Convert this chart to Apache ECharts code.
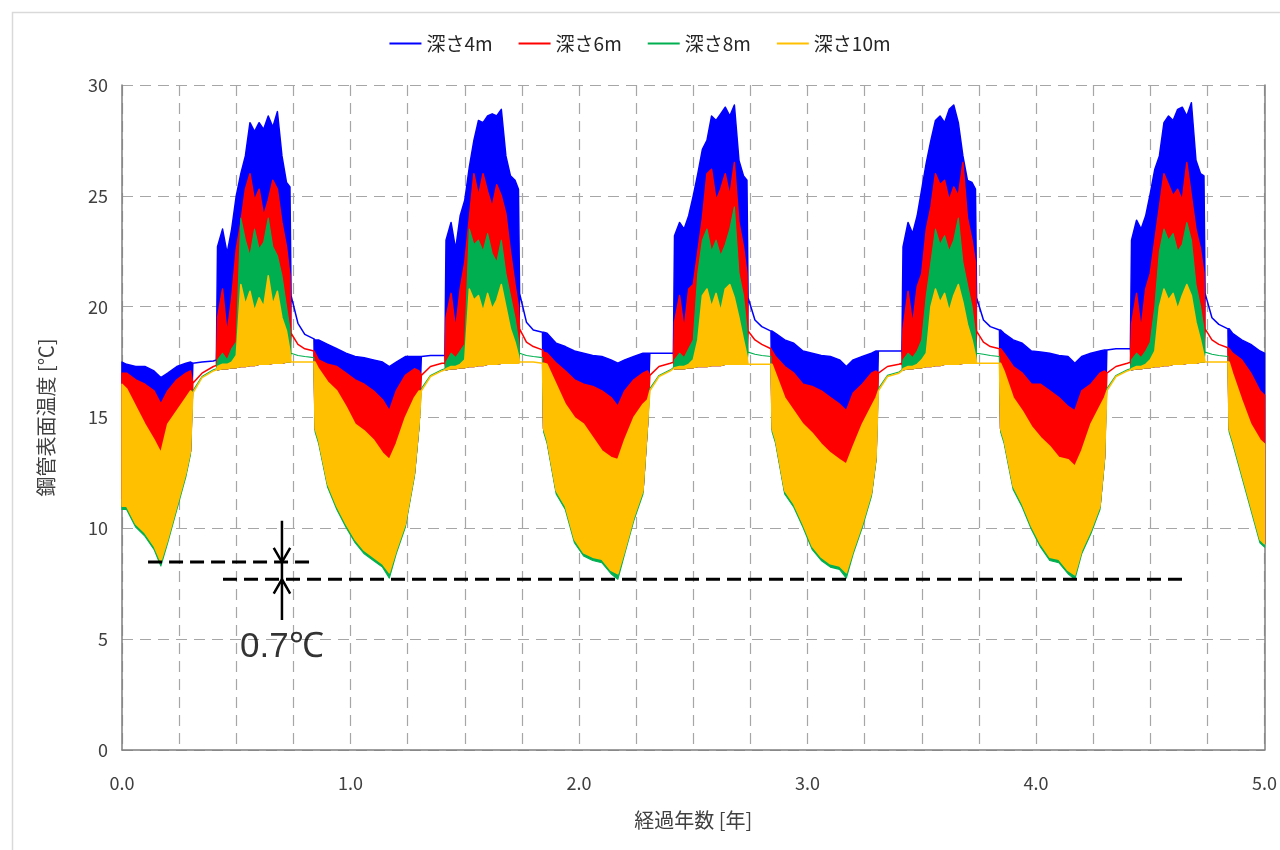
<!DOCTYPE html>
<html>
<head>
<meta charset="utf-8">
<script src="https://cdn.jsdelivr.net/npm/echarts@6/dist/echarts.min.js"></script>
<style>
  html, body { margin: 0; padding: 0; background: #fff; }
  #pipeChart { width: 1280px; height: 850px; }
</style>
</head>
<body>
<div id="pipeChart"></div>
<script>
// elapsed years (shared by all depths)
const years = [
  0, 0.02, 0.06, 0.1, 0.14, 0.17, 0.2, 0.24, 0.28, 0.3, 0.31, 0.35, 0.4, 0.413, 0.418, 0.44, 0.46, 0.48, 0.5, 0.52, 0.54, 0.56, 0.58, 0.6, 0.62, 0.64, 0.66, 0.68, 0.7, 0.72, 0.735, 0.74, 0.77, 0.8, 0.84,
  0.845, 0.86, 0.9, 0.94, 0.98, 1.02, 1.06, 1.1, 1.14, 1.17, 1.2, 1.24, 1.28, 1.3, 1.31, 1.35, 1.4, 1.413, 1.418, 1.44, 1.46, 1.48, 1.5, 1.52, 1.54, 1.56, 1.58, 1.6, 1.62, 1.64, 1.66, 1.68, 1.7, 1.72, 1.735, 1.74, 1.77, 1.8, 1.84,
  1.845, 1.86, 1.9, 1.94, 1.98, 2.02, 2.06, 2.1, 2.14, 2.17, 2.2, 2.24, 2.28, 2.3, 2.31, 2.35, 2.4, 2.413, 2.418, 2.44, 2.46, 2.48, 2.5, 2.52, 2.54, 2.56, 2.58, 2.6, 2.62, 2.64, 2.66, 2.68, 2.7, 2.72, 2.735, 2.74, 2.77, 2.8, 2.84,
  2.845, 2.86, 2.9, 2.94, 2.98, 3.02, 3.06, 3.1, 3.14, 3.17, 3.2, 3.24, 3.28, 3.3, 3.31, 3.35, 3.4, 3.413, 3.418, 3.44, 3.46, 3.48, 3.5, 3.52, 3.54, 3.56, 3.58, 3.6, 3.62, 3.64, 3.66, 3.68, 3.7, 3.72, 3.735, 3.74, 3.77, 3.8, 3.84,
  3.845, 3.86, 3.9, 3.94, 3.98, 4.02, 4.06, 4.1, 4.14, 4.17, 4.2, 4.24, 4.28, 4.3, 4.31, 4.35, 4.4, 4.413, 4.418, 4.44, 4.46, 4.48, 4.5, 4.52, 4.54, 4.56, 4.58, 4.6, 4.62, 4.64, 4.66, 4.68, 4.7, 4.72, 4.735, 4.74, 4.77, 4.8, 4.84,
  4.845, 4.86, 4.9, 4.94, 4.98, 5.0
];

// 深さ4m : upper / lower envelope of the oscillating signal
const depth4Hi = [
  17.5, 17.4, 17.3, 17.3, 17.1, 16.8, 17.0, 17.3, 17.45, 17.5, 17.45, 17.5, 17.55, 17.6, 22.7, 23.5, 22.4, 23.5, 25.0, 26.0, 26.8, 28.3, 27.9, 28.3, 28.0, 28.6, 28.1, 28.8, 26.8, 25.6, 25.4, 20.5, 19.25, 18.75, 18.55,
  18.5, 18.5, 18.3, 18.1, 17.9, 17.75, 17.7, 17.6, 17.5, 17.3, 17.5, 17.75, 17.75, 17.75, 17.75, 17.8, 17.8, 17.8, 23.0, 23.8, 22.6, 24.1, 24.8, 26.3, 27.5, 28.4, 28.3, 28.6, 28.7, 28.6, 28.9, 26.8, 25.9, 25.7, 25.3, 20.6, 19.3, 18.95, 18.85,
  18.85, 18.8, 18.35, 18.2, 18.0, 17.9, 17.8, 17.75, 17.6, 17.45, 17.6, 17.75, 17.9, 17.9, 17.9, 17.9, 17.9, 17.9, 23.2, 23.8, 23.5, 24.1, 25.0, 26.0, 27.1, 27.5, 28.6, 28.4, 28.7, 29.0, 28.6, 29.1, 26.6, 25.9, 25.7, 20.4, 19.4, 19.1, 18.9,
  18.9, 18.8, 18.5, 18.35, 18.0, 17.9, 17.8, 17.75, 17.6, 17.3, 17.6, 17.75, 17.9, 18.0, 18.0, 18.0, 18.0, 18.0, 22.7, 23.8, 23.3, 24.1, 25.3, 26.5, 27.5, 28.4, 28.6, 28.3, 28.9, 29.1, 28.3, 26.8, 25.7, 25.6, 25.3, 20.4, 19.4, 19.1, 18.95,
  18.95, 18.8, 18.5, 18.35, 18.0, 17.95, 17.9, 17.8, 17.75, 17.45, 17.75, 17.9, 18.0, 18.05, 18.05, 18.1, 18.1, 18.1, 23.0, 23.9, 23.5, 24.1, 25.1, 26.2, 26.8, 28.3, 28.6, 28.4, 28.9, 29.0, 28.6, 29.2, 26.6, 26.0, 25.9, 20.6, 19.5, 19.2, 19.0,
  19.0, 18.8, 18.5, 18.3, 18.0, 17.9
];
const depth4Lo = [
  11.0, 11.0, 10.2, 9.8, 9.2, 8.5, 9.5, 11.0, 12.5, 13.5, 17.45, 17.5, 17.55, 17.6, 17.15, 17.2, 17.2, 17.25, 17.25, 17.3, 17.3, 17.35, 17.35, 17.4, 17.4, 17.4, 17.45, 17.45, 17.45, 17.5, 17.5, 20.5, 19.25, 18.75, 18.55,
  14.5, 14.0, 12.0, 11.0, 10.2, 9.5, 9.0, 8.7, 8.4, 8.0, 9.0, 10.2, 12.5, 14.7, 17.75, 17.8, 17.8, 17.8, 17.15, 17.2, 17.2, 17.25, 17.25, 17.3, 17.3, 17.35, 17.35, 17.4, 17.4, 17.4, 17.45, 17.45, 17.45, 17.45, 17.45, 20.6, 19.3, 18.95, 18.85,
  14.5, 14.0, 11.7, 11.0, 9.5, 8.9, 8.7, 8.6, 8.1, 7.95, 9.0, 10.5, 11.7, 14.7, 17.9, 17.9, 17.9, 17.9, 17.2, 17.2, 17.2, 17.25, 17.25, 17.3, 17.3, 17.3, 17.35, 17.35, 17.35, 17.4, 17.4, 17.4, 17.4, 17.4, 17.4, 20.4, 19.4, 19.1, 18.9,
  14.5, 14.0, 11.7, 11.1, 10.2, 9.2, 8.7, 8.4, 8.3, 8.0, 9.0, 10.2, 11.6, 13.2, 18.0, 18.0, 18.0, 18.0, 17.15, 17.2, 17.2, 17.25, 17.25, 17.3, 17.3, 17.35, 17.35, 17.4, 17.4, 17.4, 17.4, 17.45, 17.45, 17.45, 17.45, 20.4, 19.4, 19.1, 18.95,
  14.5, 14.0, 11.9, 11.1, 10.1, 9.3, 8.7, 8.6, 8.1, 7.9, 9.0, 9.9, 11.0, 13.2, 18.05, 18.1, 18.1, 18.1, 17.15, 17.2, 17.2, 17.25, 17.25, 17.3, 17.3, 17.35, 17.35, 17.4, 17.4, 17.4, 17.45, 17.45, 17.45, 17.5, 17.5, 20.6, 19.5, 19.2, 19.0,
  14.5, 14.0, 12.5, 11.0, 9.5, 9.3
];

// 深さ6m
const depth6Hi = [
  17.0, 17.0, 16.7, 16.5, 16.2, 15.6, 16.2, 16.7, 17.0, 17.1, 16.55, 17.0, 17.3, 17.35, 19.5, 20.8, 18.8, 20.4, 22.6, 23.8, 25.3, 26.0, 24.8, 25.3, 24.1, 24.8, 25.7, 25.3, 23.8, 22.7, 21.4, 18.8, 18.3, 18.1, 18.0,
  17.9, 17.6, 17.4, 17.3, 17.0, 16.7, 16.5, 16.2, 15.8, 15.3, 16.2, 16.9, 17.2, 17.1, 16.9, 17.3, 17.45, 17.45, 19.5, 20.6, 19.0, 20.8, 22.0, 24.0, 26.0, 25.0, 26.0, 25.2, 24.5, 25.5, 25.0, 24.2, 22.5, 21.0, 20.0, 19.0, 18.4, 18.2, 18.05,
  17.95, 17.9, 17.45, 17.1, 16.7, 16.5, 16.4, 16.2, 15.9, 15.5, 16.2, 16.7, 17.0, 17.1, 16.9, 17.3, 17.45, 17.5, 19.3, 20.5, 19.0, 20.8, 21.0, 22.5, 24.0, 26.0, 26.2, 24.8, 25.3, 26.0, 25.0, 26.5, 23.8, 22.7, 21.5, 18.9, 18.5, 18.3, 18.1,
  18.0, 17.75, 17.3, 17.0, 16.5, 16.4, 16.2, 15.9, 15.6, 15.3, 16.1, 16.5, 17.0, 17.1, 17.0, 17.3, 17.4, 17.45, 19.0, 20.7, 19.2, 20.9, 21.5, 23.5, 24.5, 26.0, 25.5, 25.7, 24.8, 25.4, 25.0, 26.5, 24.0, 23.0, 22.0, 18.9, 18.4, 18.2, 18.1,
  18.1, 17.9, 17.3, 17.0, 16.5, 16.5, 16.2, 15.9, 15.5, 15.3, 16.2, 16.5, 17.0, 17.1, 17.0, 17.3, 17.45, 17.5, 19.2, 20.6, 19.0, 20.8, 21.5, 23.0, 24.5, 26.0, 25.5, 25.0, 25.3, 24.8, 26.5, 25.0, 23.5, 22.6, 21.5, 19.0, 18.5, 18.3, 18.15,
  18.1, 17.9, 17.6, 17.0, 16.2, 16.0
];
const depth6Lo = [
  11.0, 11.0, 10.2, 9.8, 9.2, 8.5, 9.5, 11.0, 12.5, 13.5, 16.55, 17.0, 17.3, 17.35, 17.15, 17.2, 17.2, 17.25, 17.25, 17.3, 17.3, 17.35, 17.35, 17.4, 17.4, 17.4, 17.45, 17.45, 17.45, 17.5, 17.5, 18.8, 18.3, 18.1, 18.0,
  14.5, 14.0, 12.0, 11.0, 10.2, 9.5, 9.0, 8.7, 8.4, 8.0, 9.0, 10.2, 12.5, 14.7, 16.9, 17.3, 17.45, 17.45, 17.15, 17.2, 17.2, 17.25, 17.25, 17.3, 17.3, 17.35, 17.35, 17.4, 17.4, 17.4, 17.45, 17.45, 17.45, 17.45, 17.45, 19.0, 18.4, 18.2, 18.05,
  14.5, 14.0, 11.7, 11.0, 9.5, 8.9, 8.7, 8.6, 8.1, 7.95, 9.0, 10.5, 11.7, 14.7, 16.9, 17.3, 17.45, 17.5, 17.2, 17.2, 17.2, 17.25, 17.25, 17.3, 17.3, 17.3, 17.35, 17.35, 17.35, 17.4, 17.4, 17.4, 17.4, 17.4, 17.4, 18.9, 18.5, 18.3, 18.1,
  14.5, 14.0, 11.7, 11.1, 10.2, 9.2, 8.7, 8.4, 8.3, 8.0, 9.0, 10.2, 11.6, 13.2, 17.0, 17.3, 17.4, 17.45, 17.15, 17.2, 17.2, 17.25, 17.25, 17.3, 17.3, 17.35, 17.35, 17.4, 17.4, 17.4, 17.4, 17.45, 17.45, 17.45, 17.45, 18.9, 18.4, 18.2, 18.1,
  14.5, 14.0, 11.9, 11.1, 10.1, 9.3, 8.7, 8.6, 8.1, 7.9, 9.0, 9.9, 11.0, 13.2, 17.0, 17.3, 17.45, 17.5, 17.15, 17.2, 17.2, 17.25, 17.25, 17.3, 17.3, 17.35, 17.35, 17.4, 17.4, 17.4, 17.45, 17.45, 17.45, 17.5, 17.5, 19.0, 18.5, 18.3, 18.15,
  14.5, 14.0, 12.5, 11.0, 9.5, 9.3
];

// 深さ8m
const depth8Hi = [
  11.3, 11.3, 10.5, 10.1, 9.5, 8.8, 9.8, 11.3, 12.8, 13.8, 16.2, 16.85, 17.15, 17.2, 17.6, 17.9, 17.6, 18.1, 18.4, 24.0, 23.0, 22.3, 23.5, 22.6, 22.9, 24.0, 22.7, 22.3, 21.4, 20.0, 19.0, 17.9, 17.8, 17.75, 17.7,
  14.8, 14.3, 12.3, 11.3, 10.5, 9.8, 9.3, 9.0, 8.7, 8.3, 9.3, 10.5, 12.8, 15.0, 16.3, 16.9, 17.15, 17.2, 17.5, 17.9, 17.7, 18.0, 18.3, 23.5, 22.8, 23.0, 22.5, 23.3, 22.4, 22.0, 23.0, 21.5, 20.5, 19.5, 18.5, 17.9, 17.8, 17.75, 17.7,
  14.8, 14.3, 12.0, 11.3, 9.8, 9.2, 9.0, 8.9, 8.4, 8.25, 9.3, 10.8, 12.0, 15.0, 16.3, 16.9, 17.15, 17.25, 17.6, 17.9, 17.7, 18.1, 18.5, 21.5, 23.0, 23.5, 22.5, 23.0, 22.3, 22.8, 23.5, 24.5, 21.5, 20.5, 19.0, 17.95, 17.85, 17.8, 17.75,
  14.8, 14.3, 12.0, 11.4, 10.5, 9.5, 9.0, 8.7, 8.6, 8.3, 9.3, 10.5, 11.9, 13.5, 16.3, 16.9, 17.05, 17.15, 17.6, 17.9, 17.7, 18.0, 18.5, 20.5, 22.0, 23.5, 22.8, 23.2, 22.5, 23.0, 24.0, 22.0, 21.0, 20.0, 18.8, 17.9, 17.85, 17.8, 17.75,
  14.8, 14.3, 12.2, 11.4, 10.4, 9.6, 9.0, 8.9, 8.4, 8.2, 9.3, 10.2, 11.3, 13.5, 16.3, 16.9, 17.15, 17.2, 17.6, 17.9, 17.7, 18.0, 18.4, 20.0, 22.5, 23.5, 23.0, 23.3, 22.5, 22.8, 23.8, 23.0, 21.0, 20.0, 19.0, 17.95, 17.85, 17.8, 17.75,
  14.8, 14.3, 12.8, 11.3, 9.8, 9.6
];
const depth8Lo = [
  10.85, 10.85, 10.05, 9.65, 9.05, 8.3, 9.35, 10.85, 12.35, 13.35, 16.2, 16.85, 17.15, 17.2, 17.15, 17.2, 17.2, 17.25, 17.25, 17.3, 17.3, 17.35, 17.35, 17.4, 17.4, 17.4, 17.45, 17.45, 17.45, 17.5, 17.5, 17.9, 17.8, 17.75, 17.7,
  14.35, 13.85, 11.85, 10.85, 10.05, 9.35, 8.85, 8.55, 8.25, 7.75, 8.85, 10.05, 12.35, 14.55, 16.3, 16.9, 17.15, 17.2, 17.15, 17.2, 17.2, 17.25, 17.25, 17.3, 17.3, 17.35, 17.35, 17.4, 17.4, 17.4, 17.45, 17.45, 17.45, 17.45, 17.45, 17.9, 17.8, 17.75, 17.7,
  14.35, 13.85, 11.55, 10.85, 9.35, 8.75, 8.55, 8.45, 7.95, 7.7, 8.85, 10.35, 11.55, 14.55, 16.3, 16.9, 17.15, 17.25, 17.2, 17.2, 17.2, 17.25, 17.25, 17.3, 17.3, 17.3, 17.35, 17.35, 17.35, 17.4, 17.4, 17.4, 17.4, 17.4, 17.4, 17.95, 17.85, 17.8, 17.75,
  14.35, 13.85, 11.55, 10.95, 10.05, 9.05, 8.55, 8.25, 8.15, 7.75, 8.85, 10.05, 11.45, 13.05, 16.3, 16.9, 17.05, 17.15, 17.15, 17.2, 17.2, 17.25, 17.25, 17.3, 17.3, 17.35, 17.35, 17.4, 17.4, 17.4, 17.4, 17.45, 17.45, 17.45, 17.45, 17.9, 17.85, 17.8, 17.75,
  14.35, 13.85, 11.75, 10.95, 9.95, 9.15, 8.55, 8.45, 7.95, 7.7, 8.85, 9.75, 10.85, 13.05, 16.3, 16.9, 17.15, 17.2, 17.15, 17.2, 17.2, 17.25, 17.25, 17.3, 17.3, 17.35, 17.35, 17.4, 17.4, 17.4, 17.45, 17.45, 17.45, 17.5, 17.5, 17.95, 17.85, 17.8, 17.75,
  14.35, 13.85, 12.35, 10.85, 9.35, 9.15
];

// 深さ10m
const depth10Hi = [
  16.5, 16.3, 15.5, 14.7, 14.0, 13.4, 14.7, 15.3, 15.9, 16.2, 16.1, 16.8, 17.1, 17.15, 17.3, 17.4, 17.4, 17.5, 17.8, 21.0, 20.1, 20.7, 19.8, 20.4, 20.0, 21.4, 20.1, 20.7, 19.5, 18.9, 18.0, 17.5, 17.5, 17.5, 17.5,
  17.5, 17.2, 16.6, 16.2, 15.5, 14.7, 14.4, 14.0, 13.4, 13.1, 13.8, 15.0, 15.9, 16.2, 16.2, 16.85, 17.1, 17.15, 17.2, 17.3, 17.3, 17.4, 17.6, 20.8, 20.3, 20.5, 19.8, 20.6, 19.9, 20.3, 21.0, 20.0, 19.0, 18.4, 17.8, 17.5, 17.5, 17.5, 17.45,
  17.45, 17.4, 16.5, 15.6, 15.0, 14.7, 14.1, 13.5, 13.2, 13.1, 14.0, 15.0, 15.6, 15.8, 16.2, 16.85, 17.1, 17.2, 17.25, 17.3, 17.3, 17.4, 17.6, 18.5, 20.5, 20.8, 20.0, 20.6, 19.8, 20.8, 21.0, 20.4, 19.5, 18.5, 17.8, 17.4, 17.4, 17.4, 17.4,
  17.4, 17.0, 15.9, 15.3, 14.7, 14.3, 13.8, 13.4, 13.1, 12.9, 13.7, 14.7, 15.5, 15.9, 16.2, 16.85, 17.0, 17.1, 17.2, 17.3, 17.3, 17.4, 17.6, 17.9, 20.0, 20.8, 20.2, 20.6, 19.8, 20.5, 21.0, 20.2, 19.2, 18.5, 17.8, 17.45, 17.45, 17.45, 17.45,
  17.45, 17.1, 15.9, 15.3, 14.6, 14.1, 13.7, 13.2, 13.1, 12.8, 13.5, 14.7, 15.5, 15.9, 16.2, 16.85, 17.1, 17.15, 17.2, 17.3, 17.3, 17.4, 17.6, 18.0, 20.0, 20.8, 20.3, 20.6, 19.9, 20.5, 21.0, 20.5, 19.3, 18.5, 17.8, 17.5, 17.5, 17.5, 17.5,
  17.5, 17.0, 15.8, 14.7, 14.0, 13.8
];
const depth10Lo = [
  11.0, 11.0, 10.2, 9.8, 9.2, 8.5, 9.5, 11.0, 12.5, 13.5, 16.1, 16.8, 17.1, 17.15, 17.15, 17.2, 17.2, 17.25, 17.25, 17.3, 17.3, 17.35, 17.35, 17.4, 17.4, 17.4, 17.45, 17.45, 17.45, 17.5, 17.5, 17.5, 17.5, 17.5, 17.5,
  14.5, 14.0, 12.0, 11.0, 10.2, 9.5, 9.0, 8.7, 8.4, 8.0, 9.0, 10.2, 12.5, 14.7, 16.2, 16.85, 17.1, 17.15, 17.15, 17.2, 17.2, 17.25, 17.25, 17.3, 17.3, 17.35, 17.35, 17.4, 17.4, 17.4, 17.45, 17.45, 17.45, 17.45, 17.45, 17.5, 17.5, 17.5, 17.45,
  14.5, 14.0, 11.7, 11.0, 9.5, 8.9, 8.7, 8.6, 8.1, 7.95, 9.0, 10.5, 11.7, 14.7, 16.2, 16.85, 17.1, 17.2, 17.2, 17.2, 17.2, 17.25, 17.25, 17.3, 17.3, 17.3, 17.35, 17.35, 17.35, 17.4, 17.4, 17.4, 17.4, 17.4, 17.4, 17.4, 17.4, 17.4, 17.4,
  14.5, 14.0, 11.7, 11.1, 10.2, 9.2, 8.7, 8.4, 8.3, 8.0, 9.0, 10.2, 11.6, 13.2, 16.2, 16.85, 17.0, 17.1, 17.15, 17.2, 17.2, 17.25, 17.25, 17.3, 17.3, 17.35, 17.35, 17.4, 17.4, 17.4, 17.4, 17.45, 17.45, 17.45, 17.45, 17.45, 17.45, 17.45, 17.45,
  14.5, 14.0, 11.9, 11.1, 10.1, 9.3, 8.7, 8.6, 8.1, 7.9, 9.0, 9.9, 11.0, 13.2, 16.2, 16.85, 17.1, 17.15, 17.15, 17.2, 17.2, 17.25, 17.25, 17.3, 17.3, 17.35, 17.35, 17.4, 17.4, 17.4, 17.45, 17.45, 17.45, 17.5, 17.5, 17.5, 17.5, 17.5, 17.5,
  14.5, 14.0, 12.5, 11.0, 9.5, 9.3
];

const depthNames = ['深さ4m', '深さ6m', '深さ8m', '深さ10m'];
const depthColors = ['#0000ff', '#ff0000', '#00b050', '#ffc000'];

// annotation (0.7℃ gap between first-year and later minimums)
const refLineFirst = [[0.114, 8.48], [0.844, 8.48]];
const refLineLater = [[0.442, 7.7], [4.66, 7.7]];
const arrowShaft = [[0.7, 10.34], [0.7, 5.86]];
const arrowHeadDown = [[0.664, 9.12], [0.7, 8.48], [0.736, 9.12]];
const arrowHeadUp = [[0.664, 7.06], [0.7, 7.7], [0.736, 7.06]];
const gapLabelPos = [0.7, 4.62];

const bands = [
  [depth4Hi, depth4Lo], [depth6Hi, depth6Lo], [depth8Hi, depth8Lo], [depth10Hi, depth10Lo]
];
bands.forEach(function (b, i) {
  if (b[0].length !== years.length || b[1].length !== years.length) {
    throw new Error(depthNames[i] + ' length ' + b[0].length + '/' + b[1].length + ' vs ' + years.length);
  }
});

// filled band between the upper and lower envelope, drawn through the axes
function bandSeries(idx, strokeWidth) {
  const hi = bands[idx][0], lo = bands[idx][1];
  const color = depthColors[idx];
  return {
    name: depthNames[idx],
    type: 'custom',
    coordinateSystem: 'cartesian2d',
    silent: true,
    itemStyle: { color: color },
    data: [[years[0], hi[0]]],
    encode: { x: 0, y: 1 },
    renderItem: function (params, api) {
      const pts = [];
      for (let i = 0; i < years.length; i++) pts.push(api.coord([years[i], hi[i]]));
      for (let i = years.length - 1; i >= 0; i--) pts.push(api.coord([years[i], lo[i]]));
      return {
        type: 'polygon',
        shape: { points: pts },
        style: { fill: color, stroke: color, lineWidth: strokeWidth, lineJoin: 'round' }
      };
    }
  };
}

const chart = echarts.init(document.getElementById('pipeChart'));
const gridDash = [11, 7];
const option = {
  animation: false,
  textStyle: { fontFamily: '"Noto Sans CJK JP", "Noto Sans", sans-serif' },
  graphic: [{
    type: 'rect', left: 10, top: 10, silent: true,
    shape: { width: 1300, height: 870 },
    style: { fill: 'none', stroke: '#d9d9d9', lineWidth: 1.5 }
  }],
  legend: {
    top: 29, left: 'center',
    icon: 'rect', itemWidth: 32, itemHeight: 2, itemGap: 26,
    textStyle: { fontSize: 19, color: '#262626' },
    data: depthNames
  },
  grid: { left: 122, right: 15, top: 85, bottom: 100 },
  xAxis: {
    type: 'value', min: 0, max: 5, interval: 0.25,
    name: '経過年数 [年]', nameLocation: 'middle', nameGap: 60,
    nameTextStyle: { fontSize: 20, color: '#404040' },
    axisLine: { lineStyle: { color: '#7f7f7f', width: 1.5 } },
    axisTick: { show: false },
    axisLabel: {
      fontSize: 18, color: '#404040', margin: 24,
      formatter: function (v) { return Math.abs(v - Math.round(v)) < 1e-9 ? v.toFixed(1) : ''; }
    },
    splitLine: { show: true, lineStyle: { color: '#a6a6a6', width: 1.2, type: gridDash } }
  },
  yAxis: [{
    type: 'value', min: 0, max: 30, interval: 5,
    name: '鋼管表面温度 [℃]', nameLocation: 'middle', nameGap: 66,
    nameTextStyle: { fontSize: 20, color: '#404040' },
    axisLine: { show: true, lineStyle: { color: '#7f7f7f', width: 1.5 } },
    axisTick: { show: false },
    axisLabel: { fontSize: 18, color: '#404040', margin: 14 },
    splitLine: { show: true, lineStyle: { color: '#a6a6a6', width: 1.2, type: gridDash } }
  }, {
    type: 'value', min: 0, max: 30, interval: 5, position: 'right',
    axisLine: { show: true, lineStyle: { color: '#7f7f7f', width: 1.5 } },
    axisTick: { show: false }, axisLabel: { show: false }, splitLine: { show: false }
  }],
  series: [
    bandSeries(0, 1.5), bandSeries(1, 1.5), bandSeries(2, 1.1), bandSeries(3, 1.5),
    {
      type: 'lines', coordinateSystem: 'cartesian2d', polyline: true, silent: true, z: 10,
      lineStyle: { color: '#000', width: 3, opacity: 1, type: [14, 7] },
      data: [{ coords: refLineFirst }, { coords: refLineLater }]
    },
    {
      type: 'lines', coordinateSystem: 'cartesian2d', polyline: true, silent: true, z: 11,
      lineStyle: { color: '#000', width: 2.5, opacity: 1 },
      data: [{ coords: arrowShaft }, { coords: arrowHeadDown }, { coords: arrowHeadUp }]
    },
    {
      type: 'scatter', silent: true, z: 12,
      symbol: 'circle', symbolSize: 1,
      itemStyle: { color: 'rgba(0,0,0,0)' },
      label: {
        show: true, position: 'inside', formatter: '0.7℃',
        fontSize: 35, color: '#000', fontFamily: '"Liberation Sans", Arial, sans-serif'
      },
      data: [gapLabelPos]
    }
  ]
};
chart.setOption(option);
</script>
</body>
</html>
